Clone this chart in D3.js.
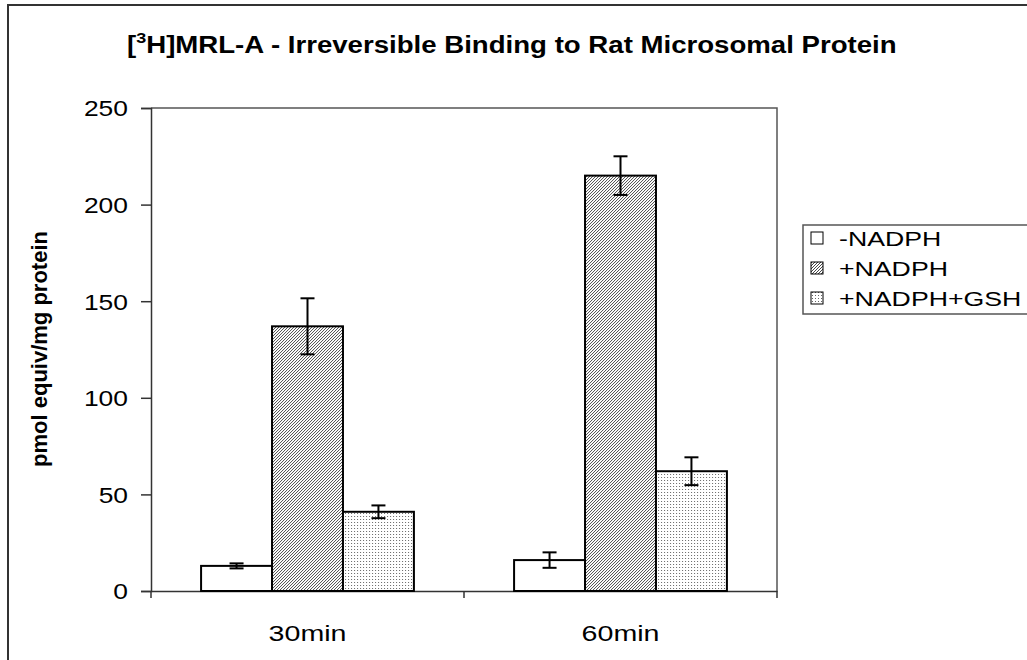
<!DOCTYPE html>
<html>
<head>
<meta charset="utf-8">
<script src="https://cdn.jsdelivr.net/npm/d3@7"></script>
<style>
  body { margin: 0; background: #fff; }
  svg text { font-family: "Liberation Sans", Arial, sans-serif; fill: #000; }
</style>
</head>
<body>
<svg id="chart" width="1027" height="660"></svg>
<script>
const categories = ['30min', '60min'];
const seriesNames = ['-NADPH', '+NADPH', '+NADPH+GSH'];
const minusNadph = [13, 16];
const minusNadphErr = [1.3, 4];
const plusNadph = [137, 215];
const plusNadphErr = [14.5, 10];
const plusNadphGsh = [41, 62];
const plusNadphGshErr = [3.3, 7.2];
const yTicks = [0, 50, 100, 150, 200, 250];

const margin = { left: 151, right: 250, top: 108, bottom: 69 };
const width = 1027 - margin.left - margin.right;
const height = 660 - margin.top - margin.bottom;

const svg = d3.select('#chart');

// fill patterns
const defs = svg.append('defs');
const hatch = defs.append('pattern')
  .attr('id', 'hatch')
  .attr('patternUnits', 'userSpaceOnUse')
  .attr('width', 3).attr('height', 3);
hatch.append('rect').attr('width', 3).attr('height', 3).attr('fill', '#fff');
hatch.append('path')
  .attr('d', 'M-1,1 l2,-2 M0,3 l3,-3 M2,4 l2,-2')
  .attr('stroke', '#333').attr('stroke-width', 0.9);

const dots = defs.append('pattern')
  .attr('id', 'dots')
  .attr('patternUnits', 'userSpaceOnUse')
  .attr('width', 3).attr('height', 3);
dots.append('rect').attr('width', 3).attr('height', 3).attr('fill', '#fff');
dots.append('rect').attr('width', 1).attr('height', 1).attr('fill', '#666');

const fills = ['#fff', 'url(#hatch)', 'url(#dots)'];

// outer chart frame (right and bottom fall outside the picture)
svg.append('rect')
  .attr('x', 8).attr('y', 5)
  .attr('width', 1040).attr('height', 680)
  .attr('fill', 'none').attr('stroke', '#333').attr('stroke-width', 2);

const g = svg.append('g')
  .attr('transform', 'translate(' + margin.left + ',' + margin.top + ')');

// scales
const x0 = d3.scaleBand()
  .domain(categories)
  .range([0, width])
  .paddingInner(0.32)
  .paddingOuter(0.16);

const x1 = d3.scaleBand()
  .domain(seriesNames)
  .range([0, x0.bandwidth()]);

const y = d3.scaleLinear()
  .domain([0, 250])
  .range([height, 0]);

// plot area border (top / right)
g.append('path')
  .attr('d', 'M0,0 H' + width + ' V' + height)
  .attr('fill', 'none').attr('stroke', '#555').attr('stroke-width', 1.5);

// y axis
const yAxis = g.append('g')
  .call(d3.axisLeft(y).tickValues(yTicks).tickSize(10).tickPadding(13));
yAxis.select('.domain').attr('stroke', '#333').attr('stroke-width', 1.5);
yAxis.selectAll('.tick line').attr('stroke', '#333').attr('stroke-width', 1.5);
yAxis.selectAll('text')
  .attr('class', 'stretch')
  .attr('data-k', 1.2)
  .style('font-size', '22px')
  .attr('dy', '0.36em');

// x axis
const xAxis = g.append('g')
  .attr('transform', 'translate(0,' + height + ')')
  .call(d3.axisBottom(x0).tickSize(0).tickPadding(34));
xAxis.select('.domain').attr('stroke', '#333').attr('stroke-width', 1.5);
xAxis.selectAll('text')
  .attr('class', 'stretch')
  .attr('data-k', 1.3)
  .style('font-size', '22px');

// category boundary ticks
const bounds = [0].concat(categories.map(c => x0(c) - x0.step() * x0.paddingOuter() + x0.step()));
g.selectAll('.xtick')
  .data(bounds)
  .enter()
  .append('line')
  .attr('x1', d => d).attr('x2', d => d)
  .attr('y1', height).attr('y2', height + 7)
  .attr('stroke', '#333').attr('stroke-width', 1.5);

// bars
const rows = categories.map((c, i) => ({
  cat: c,
  vals: [
    { s: seriesNames[0], v: minusNadph[i], e: minusNadphErr[i] },
    { s: seriesNames[1], v: plusNadph[i], e: plusNadphErr[i] },
    { s: seriesNames[2], v: plusNadphGsh[i], e: plusNadphGshErr[i] }
  ]
}));

const groups = g.selectAll('.grp')
  .data(rows)
  .enter()
  .append('g')
  .attr('transform', d => 'translate(' + x0(d.cat) + ',0)');

groups.selectAll('rect')
  .data(d => d.vals)
  .enter()
  .append('rect')
  .attr('x', d => x1(d.s))
  .attr('y', d => y(d.v))
  .attr('width', x1.bandwidth())
  .attr('height', d => height - y(d.v))
  .attr('fill', (d, i) => fills[i])
  .attr('stroke', '#000')
  .attr('stroke-width', 2);

// error bars
const cap = 7;
const err = groups.selectAll('.err')
  .data(d => d.vals)
  .enter()
  .append('g')
  .attr('stroke', '#000')
  .attr('stroke-width', 2);
err.append('line')
  .attr('x1', d => x1(d.s) + x1.bandwidth() / 2)
  .attr('x2', d => x1(d.s) + x1.bandwidth() / 2)
  .attr('y1', d => y(d.v + d.e))
  .attr('y2', d => y(d.v - d.e));
err.append('line')
  .attr('x1', d => x1(d.s) + x1.bandwidth() / 2 - cap)
  .attr('x2', d => x1(d.s) + x1.bandwidth() / 2 + cap)
  .attr('y1', d => y(d.v + d.e))
  .attr('y2', d => y(d.v + d.e));
err.append('line')
  .attr('x1', d => x1(d.s) + x1.bandwidth() / 2 - cap)
  .attr('x2', d => x1(d.s) + x1.bandwidth() / 2 + cap)
  .attr('y1', d => y(d.v - d.e))
  .attr('y2', d => y(d.v - d.e));

// y axis title
svg.append('text')
  .attr('transform', 'translate(47,349) rotate(-90)')
  .attr('text-anchor', 'middle')
  .style('font-size', '22px')
  .style('font-weight', 'bold')
  .text('pmol equiv/mg protein');

// title
const title = svg.append('text')
  .attr('class', 'stretch')
  .attr('data-k', 1.2)
  .attr('x', 127).attr('y', 53)
  .style('font-size', '23px')
  .style('font-weight', 'bold');
title.append('tspan').text('[');
title.append('tspan').attr('dy', -10).style('font-size', '15px').text('3');
title.append('tspan').attr('dy', 10).text('H]MRL-A - Irreversible Binding to Rat Microsomal Protein');

// legend
const legend = svg.append('g').attr('transform', 'translate(803,225)');
legend.append('rect')
  .attr('width', 240).attr('height', 89)
  .attr('fill', '#fff').attr('stroke', '#555').attr('stroke-width', 1.5);
const item = legend.selectAll('.item')
  .data(seriesNames)
  .enter()
  .append('g')
  .attr('transform', (d, i) => 'translate(0,' + (13 + i * 30) + ')');
item.append('rect')
  .attr('x', 8).attr('y', -6)
  .attr('width', 12).attr('height', 12)
  .attr('fill', (d, i) => fills[i])
  .attr('stroke', '#000').attr('stroke-width', 1);
item.append('text')
  .attr('class', 'stretch')
  .attr('data-k', 1.27)
  .attr('x', 36).attr('dy', '0.36em')
  .style('font-size', '21px')
  .text(d => d);

// widen horizontal text like the original rendering
svg.selectAll('text.stretch').each(function () {
  const k = +this.getAttribute('data-k');
  const len = this.getComputedTextLength();
  d3.select(this)
    .attr('textLength', len * k)
    .attr('lengthAdjust', 'spacingAndGlyphs');
});
</script>
</body>
</html>
